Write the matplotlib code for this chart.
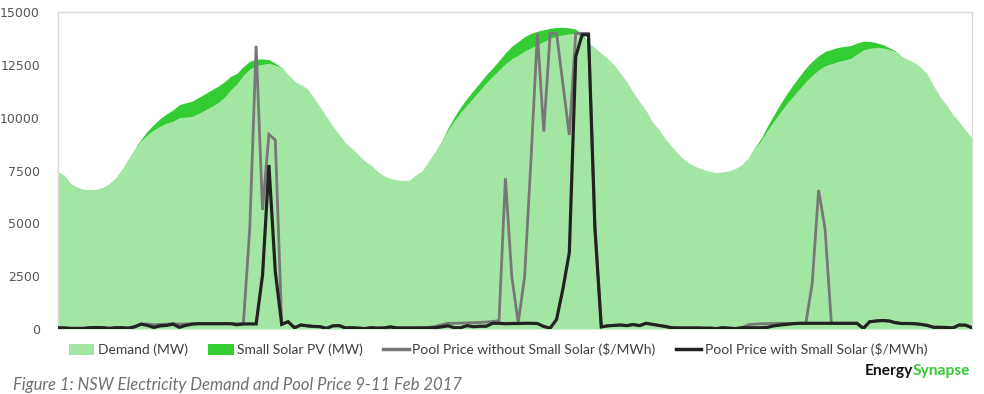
import matplotlib
matplotlib.use("Agg")
import matplotlib.pyplot as plt
from matplotlib.patches import Patch
from matplotlib.lines import Line2D
import numpy as np

# Half-hourly data, 9-11 Feb 2017 (144 intervals)
demand_mw = [
    7440, 7280, 6880, 6720, 6610, 6600, 6610, 6700, 6880, 7150,
    7560, 8050, 8500, 8900, 9200, 9420, 9600, 9740, 9830, 10000,
    10020, 10060, 10200, 10350, 10520, 10700, 10950, 11300, 11600, 12000,
    12300, 12450, 12520, 12570, 12480, 12350, 12050, 11730, 11560, 11380,
    10950, 10520, 10050, 9600, 9200, 8800, 8550, 8250, 7950, 7750,
    7450, 7250, 7120, 7050, 7030, 7050, 7300, 7500, 7950, 8400,
    8850, 9400, 9850, 10250, 10600, 10950, 11300, 11650, 11950, 12250,
    12550, 12780, 12950, 13150, 13300, 13450, 13600, 13750, 13850, 13910,
    13960, 13990, 13850, 13560, 13300, 13050, 12800, 12500, 12100, 11700,
    11200, 10750, 10350, 9800, 9450, 9000, 8650, 8300, 8000, 7800,
    7650, 7550, 7450, 7400, 7430, 7480, 7600, 7780, 8100, 8550,
    8900, 9400, 9830, 10250, 10650, 11000, 11350, 11700, 12000, 12250,
    12450, 12550, 12650, 12720, 12800, 13000, 13200, 13280, 13310, 13300,
    13230, 13130, 12900, 12750, 12600, 12380, 12050, 11500, 11000, 10600,
    10150, 9800, 9400, 9050,
]

small_solar_mw = [
    0, 0, 0, 0, 0, 0, 0, 0, 0, 0,
    0, 0, 20, 80, 170, 260, 360, 450, 540, 620,
    680, 720, 760, 780, 790, 780, 740, 650, 500, 420,
    370, 320, 260, 180, 90, 20, 0, 0, 0, 0,
    0, 0, 0, 0, 0, 0, 0, 0, 0, 0,
    0, 0, 0, 0, 0, 0, 0, 0, 0, 0,
    30, 100, 180, 260, 320, 340, 360, 380, 400, 450,
    520, 600, 650, 680, 690, 640, 560, 480, 420, 360,
    290, 200, 90, 0, 0, 0, 0, 0, 0, 0,
    0, 0, 0, 0, 0, 0, 0, 0, 0, 0,
    0, 0, 0, 0, 0, 0, 0, 0, 0, 40,
    110, 200, 300, 390, 470, 550, 610, 650, 670, 680,
    680, 680, 670, 650, 610, 530, 420, 330, 240, 160,
    90, 30, 0, 0, 0, 0, 0, 0, 0, 0,
    0, 0, 0, 0,
]

price_with_solar = [
    60, 50, 30, 30, 30, 60, 70, 60, 30, 60,
    60, 40, 100, 230, 170, 70, 150, 170, 230, 80,
    170, 230, 250, 250, 250, 250, 250, 250, 200, 240,
    240, 240, 2550, 7760, 2710, 220, 345, 60, 190, 150,
    120, 110, 30, 150, 160, 50, 60, 40, 20, 60,
    40, 50, 100, 50, 50, 50, 50, 50, 50, 60,
    100, 150, 60, 60, 160, 110, 130, 130, 270, 270,
    250, 260, 260, 270, 270, 260, 120, 40, 450, 1900,
    3620, 12890, 13920, 13920, 4800, 100, 150, 170, 190, 160,
    210, 160, 270, 220, 170, 120, 60, 50, 50, 50,
    50, 40, 40, 20, 60, 40, 20, 60, 60, 60,
    60, 80, 150, 190, 220, 250, 270, 270, 270, 270,
    270, 270, 270, 270, 270, 270, 30, 345, 380, 400,
    380, 300, 260, 260, 250, 220, 170, 80, 80, 70,
    50, 190, 180, 60,
]

price_without_solar = [
    60, 50, 30, 30, 30, 60, 70, 60, 30, 60,
    60, 40, 120, 240, 230, 200, 220, 230, 250, 230,
    240, 250, 260, 260, 260, 260, 260, 260, 250, 250,
    4750, 13400, 5630, 9210, 8940, 220, 345, 60, 190, 150,
    120, 110, 30, 150, 160, 50, 60, 40, 20, 60,
    40, 50, 100, 50, 50, 50, 50, 50, 80, 120,
    200, 270, 270, 280, 290, 300, 310, 330, 350, 400,
    7130, 2475, 300, 2450, 8000, 13990, 9340, 13990, 13990, 11600,
    9180, 13990, 13990, 13990, 4800, 100, 150, 170, 190, 160,
    210, 160, 270, 220, 170, 120, 60, 50, 50, 50,
    50, 40, 40, 20, 60, 40, 20, 60, 200, 230,
    250, 260, 260, 270, 270, 270, 270, 270, 2160, 6580,
    4760, 270, 270, 270, 270, 270, 30, 345, 380, 400,
    380, 300, 260, 260, 250, 220, 170, 80, 80, 70,
    50, 190, 180, 60,
]

y_ticks = [0, 2500, 5000, 7500, 10000, 12500, 15000]

legend_labels = ["Demand (MW)", "Small Solar PV (MW)",
                 "Pool Price without Small Solar ($/MWh)",
                 "Pool Price with Small Solar ($/MWh)"]
caption = "Figure 1: NSW Electricity Demand and Pool Price 9-11 Feb 2017"

c_demand = "#a3e6a3"
c_solar = "#33cc33"
c_gray = "#777777"
c_black = "#222222"

W, H = 984, 394
fig = plt.figure(figsize=(W / 100, H / 100), dpi=100)
ax = fig.add_axes([58 / W, (H - 329) / H, (972 - 58) / W, (329 - 12) / H])

x = np.arange(len(demand_mw))
d = np.array(demand_mw, dtype=float)
s = np.array(small_solar_mw, dtype=float)
ax.fill_between(x, 0, d, color=c_demand, lw=0, zorder=1)
ax.fill_between(x, d, d + s, color=c_solar, lw=0, zorder=1)
ax.plot(x, price_without_solar, color=c_gray, lw=2.0, zorder=3, solid_joinstyle="miter")
ax.plot(x, price_with_solar, color=c_black, lw=2.3, zorder=4, solid_joinstyle="miter")

ax.set_xlim(0, len(x) - 1)
ax.set_ylim(0, 15000)
ax.set_xticks([])
ax.set_yticks(y_ticks)
ax.set_yticklabels([str(v) for v in y_ticks], fontsize=9.0, color="#555555",
                   family="DejaVu Sans")
ax.tick_params(axis="y", length=0, pad=13)
for side in ["left", "top", "right"]:
    ax.spines[side].set_color("#d9d9d9")
    ax.spines[side].set_linewidth(1.0)
ax.spines["bottom"].set_visible(False)

handles = [Patch(facecolor=c_demand, edgecolor="none"),
           Patch(facecolor=c_solar, edgecolor="none"),
           Line2D([0], [0], color=c_gray, lw=2.5),
           Line2D([0], [0], color=c_black, lw=2.5)]
leg = fig.legend(handles, legend_labels, loc="center", ncol=4,
                 bbox_to_anchor=(498 / W, 1 - 350 / H), frameon=False,
                 prop={"family": "Lato", "size": 10.0},
                 handlelength=1.85, handleheight=0.85, handletextpad=0.25,
                 columnspacing=1.45, labelcolor="#404040")

fig.text(13 / W, 1 - 385 / H, caption, fontsize=12, style="italic",
         color="#707070", family="Lato", va="center", ha="left")
fig.text(913 / W, 1 - 371 / H, "Energy", fontsize=11.2, weight="bold",
         color="#111111", family="Lato", va="center", ha="right")
fig.text(913 / W, 1 - 371 / H, "Synapse", fontsize=11.2, weight="bold",
         color="#33cc33", family="Lato", va="center", ha="left")

fig.savefig("out.png", dpi=100)
